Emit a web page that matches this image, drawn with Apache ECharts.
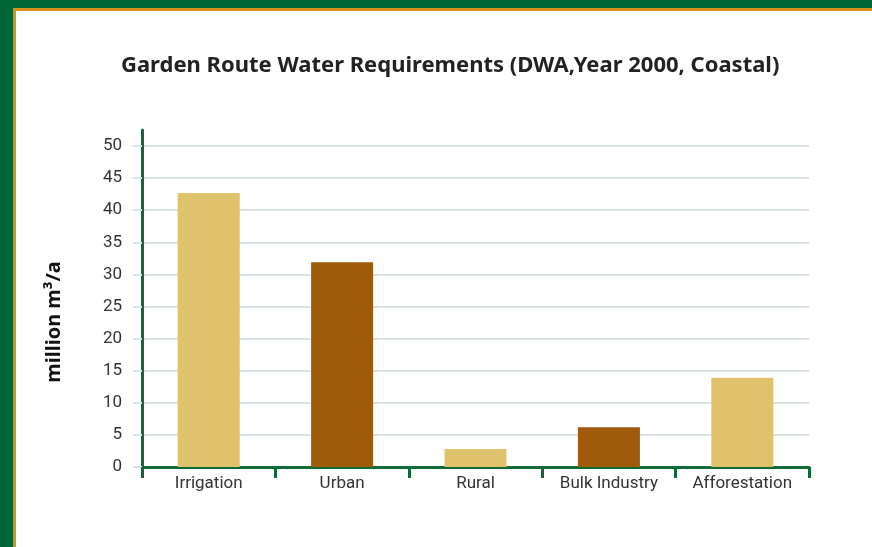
<!DOCTYPE html>
<html>
<head>
<meta charset="utf-8">
<script src="https://cdn.jsdelivr.net/npm/echarts@6/dist/echarts.min.js"></script>
<style>
  html, body { margin: 0; padding: 0; background: #ffffff; }
  #chart { position: absolute; left: 0; top: 0; width: 872px; height: 547px; }
  .frame { position: absolute; pointer-events: none; }
</style>
</head>
<body>
<div id="chart"></div>
<div class="frame" style="left:0;top:0;width:872px;height:8px;background:#006633;"></div>
<div class="frame" style="left:0;top:0;width:13px;height:547px;background:#006633;"></div>
<div class="frame" style="left:13px;top:8px;width:859px;height:3px;background:#d4921c;"></div>
<div class="frame" style="left:13px;top:8px;width:3px;height:539px;background:#d4921c;"></div>
<script>
const categories = ['Irrigation', 'Urban', 'Rural', 'Bulk Industry', 'Afforestation'];
const values = [42.7, 31.9, 2.8, 6.2, 13.9];
const barColors = ['#e0c16c', '#a15a09', '#e0c16c', '#a15a09', '#e0c16c'];
const yTicks = [0, 5, 10, 15, 20, 25, 30, 35, 40, 45, 50];
const titleText = 'Garden Route Water Requirements (DWA,Year 2000, Coastal)';
const yName = 'million m\u00B3/a';

const chart = echarts.init(document.getElementById('chart'), null, { renderer: 'canvas' });
const axisGreen = '#0f6b35';
const gridColor = '#dce4df';

chart.setOption({
  animation: false,
  backgroundColor: 'transparent',
  title: {
    text: titleText,
    left: 116,
    top: 50,
    textStyle: { fontFamily: 'Noto Sans', fontWeight: 'bold', fontSize: 22, color: '#222222' }
  },
  grid: { left: 142, right: 63, top: 130, bottom: 80, containLabel: false },
  xAxis: {
    type: 'category',
    data: categories,
    boundaryGap: true,
    axisLine: { show: true, lineStyle: { color: axisGreen, width: 3 } },
    axisTick: { show: true, alignWithLabel: false, length: 11, lineStyle: { color: axisGreen, width: 3 } },
    axisLabel: { margin: 8, fontFamily: 'Roboto', fontSize: 17, color: '#333333' }
  },
  yAxis: {
    type: 'value',
    min: 0,
    max: 52.5,
    interval: 5,
    axisLine: { show: true, lineStyle: { color: axisGreen, width: 3 } },
    axisTick: { show: true, length: 9, customValues: yTicks, lineStyle: { color: gridColor, width: 2 } },
    axisLabel: {
      margin: 20, fontFamily: 'Roboto', fontSize: 17, color: '#333333',
      customValues: yTicks
    },
    splitLine: { show: true, lineStyle: { color: gridColor, width: 2 } }
  },
  graphic: [{
    type: 'text',
    x: 44,
    y: 322,
    rotation: Math.PI / 2,
    style: {
      text: yName,
      fontFamily: 'Noto Sans',
      fontWeight: 'bold',
      fontSize: 20,
      fill: '#111111',
      align: 'center',
      verticalAlign: 'top'
    }
  }],
  series: [{
    type: 'bar',
    barWidth: 62,
    data: values.map((v, i) => ({ value: v, itemStyle: { color: barColors[i] } }))
  }]
});
</script>
</body>
</html>
